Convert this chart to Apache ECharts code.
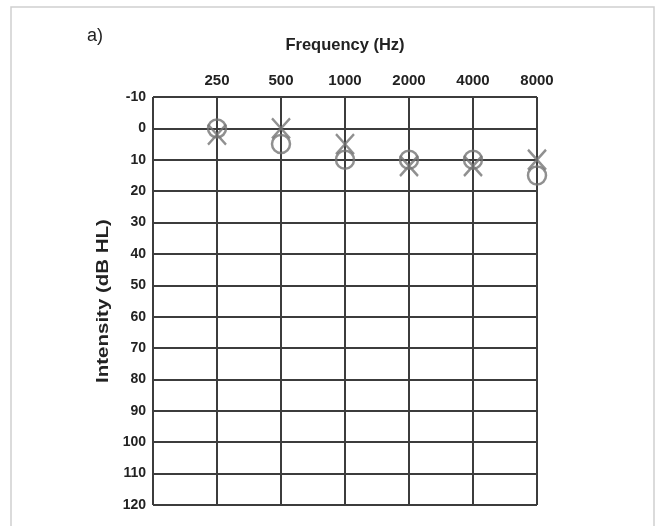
<!DOCTYPE html>
<html><head><meta charset="utf-8">
<script src="https://cdn.jsdelivr.net/npm/echarts@6/dist/echarts.min.js"></script>
<style>html,body{margin:0;padding:0;background:#fff}#c{width:657px;height:526px}</style>
</head><body><div id="c"></div>
<script>
const freqLabels = ['250', '500', '1000', '2000', '4000', '8000'];
const circleValues = [0, 5, 10, 10, 10, 15];
const crossValues = [2, 0, 5, 12, 12, 10];
const yTicks = [-10, 0, 10, 20, 30, 40, 50, 60, 70, 80, 90, 100, 110, 120];

const FONT = '"Liberation Sans Narrow", "Liberation Sans", Arial, sans-serif';
const chart = echarts.init(document.getElementById('c'));
const markColor = '#747474';
chart.setOption({
  animation: false,
  backgroundColor: '#fff',
  grid: { left: 153, right: 120, top: 97, bottom: 21 },
  graphic: [
    { type: 'rect', shape: { x: 11, y: 7, width: 643, height: 530 }, style: { fill: 'none', stroke: '#cfcfcf', lineWidth: 1.5 } },
    { type: 'text', left: 87, top: 27, style: { text: 'a)', font: '18px ' + FONT, fill: '#222' } },
    { type: 'text', x: 345, y: 45, style: { text: 'Frequency (Hz)', font: 'bold 16.5px ' + FONT, fill: '#222', align: 'center', verticalAlign: 'middle' } },
    { type: 'text', x: 104, y: 301, rotation: Math.PI / 2, scaleX: 1.28, style: { text: 'Intensity (dB HL)', font: 'bold 16px ' + FONT, fill: '#222', align: 'center', verticalAlign: 'middle' } }
  ],
  xAxis: {
    type: 'value', position: 'top', min: 0, max: freqLabels.length, interval: 1,
    axisLine: { show: false }, axisTick: { show: false },
    axisLabel: { margin: 9, fontFamily: FONT, fontWeight: 'bold', fontSize: 15, color: '#222',
      formatter: v => (v >= 1 && v <= freqLabels.length) ? freqLabels[v - 1] : '' },
    splitLine: { show: true, lineStyle: { color: '#3c3c3c', width: 2 } }
  },
  yAxis: {
    type: 'value', inverse: true, min: yTicks[0], max: yTicks[yTicks.length - 1], interval: 10,
    axisLine: { show: false }, axisTick: { show: false },
    axisLabel: { margin: 7, fontFamily: FONT, fontWeight: 'bold', fontSize: 14, color: '#222',
      formatter: v => String(v) },
    splitLine: { show: true, lineStyle: { color: '#3c3c3c', width: 2 } }
  },
  series: [
    { type: 'scatter', data: circleValues.map((v, i) => [i + 1, v]), symbol: 'circle', symbolSize: 18,
      itemStyle: { color: 'transparent', borderColor: markColor, borderWidth: 2.5 }, z: 3 },
    { type: 'scatter', data: crossValues.map((v, i) => [i + 1, v]), symbol: 'path://M0,0L10,10M10,0L0,10', symbolSize: [18, 20],
      itemStyle: { color: 'transparent', borderColor: markColor, borderWidth: 2.5 }, z: 3 }
  ]
});
</script></body></html>
